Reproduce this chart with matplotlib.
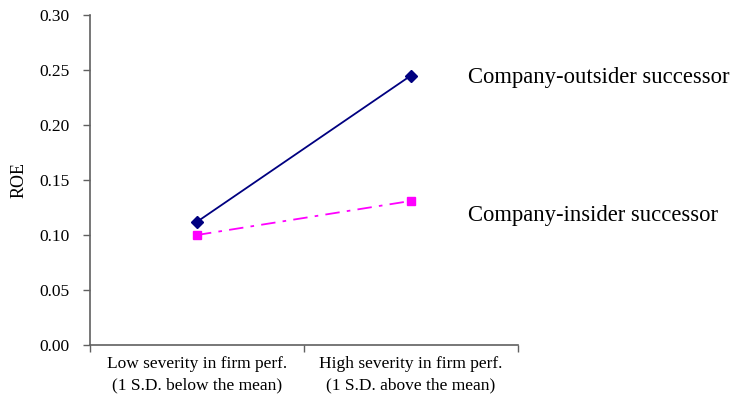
import matplotlib
matplotlib.use("Agg")
import matplotlib.pyplot as plt

categories = ["Low severity in firm perf.\n(1 S.D. below the mean)",
              "High severity in firm perf.\n(1 S.D. above the mean)"]
outsider = [0.112, 0.245]
insider = [0.100, 0.131]
series_names = ["Company-outsider successor", "Company-insider successor"]
yticks = [0.00, 0.05, 0.10, 0.15, 0.20, 0.25, 0.30]

plt.rcParams['font.family'] = ['Liberation Serif', 'DejaVu Serif']

fig = plt.figure(figsize=(7.38, 4.08), dpi=100)
ax = fig.add_axes([90/738, 1-345/408, 428/738, 330/408])

xpos = [0.5, 1.5]
ax.plot(xpos, outsider, color='#000080', marker='D', markersize=6, lw=1.3)
ax.plot(xpos, insider, color='#FF00FF', marker='s', markersize=6, lw=1.3,
        dashes=[8, 4, 2, 4])

ax.set_xlim(0, 2)
ax.set_ylim(0, 0.30)
ax.set_yticks(yticks)
ax.set_yticklabels([f"{v:.2f}" for v in yticks], fontsize=12.5)
ax.set_xticks([0, 1, 2])
ax.set_xticklabels([])
ax.set_xticks(xpos, minor=True)
ax.set_xticklabels(categories, minor=True, fontsize=12.5, linespacing=1.45)
ax.tick_params(axis='x', which='minor', length=0, pad=8)
ax.tick_params(axis='both', which='major', length=5, width=1, color='#606060')
ax.tick_params(axis='y', pad=10)
for s in ['top', 'right']:
    ax.spines[s].set_visible(False)
for s in ['left', 'bottom']:
    ax.spines[s].set_color('#606060')
    ax.spines[s].set_linewidth(1.2)

ax.set_ylabel("ROE", fontsize=13, labelpad=8)

ax.text(1.766, outsider[1] - 0.002, series_names[0], fontsize=16.3, va='center', ha='left', clip_on=False)
ax.text(1.766, 0.118, series_names[1], fontsize=16.3, va='center', ha='left', clip_on=False)

fig.savefig("out.png", dpi=100)
